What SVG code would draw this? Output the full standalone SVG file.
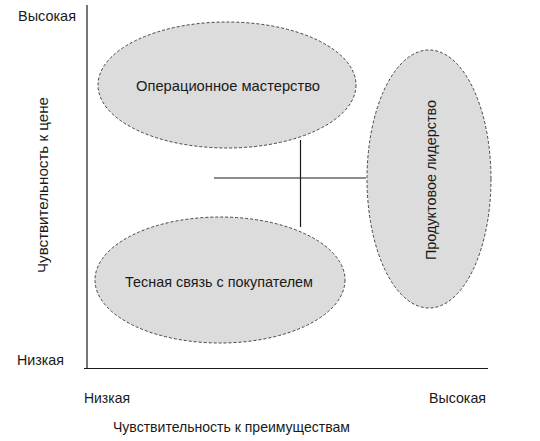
<svg xmlns="http://www.w3.org/2000/svg" width="540" height="441" viewBox="0 0 540 441">
<style>
.t{font-family:"Liberation Sans",Arial,sans-serif;font-size:15px;fill:#1a1a1a}
.e{fill:#dcdcdc;stroke:#444;stroke-width:1;stroke-dasharray:3 2}
.l{stroke:#1a1a1a;stroke-width:1.2;fill:none}
</style>
<rect width="540" height="441" fill="#fff"/>
<g id="axes">
<line class="l" x1="87" y1="5" x2="87" y2="368.5"/>
<line class="l" x1="84" y1="368.5" x2="488" y2="368.5"/>
</g>
<g id="connectors">
<line class="l" x1="214" y1="178" x2="366" y2="178"/>
<line class="l" x1="300.5" y1="140" x2="300.5" y2="227"/>
</g>
<g id="node-operational">
<ellipse class="e" cx="227" cy="85" rx="129" ry="63"/>
<text class="t" x="228" y="90.5" text-anchor="middle" textLength="184" lengthAdjust="spacingAndGlyphs">Операционное мастерство</text>
</g>
<g id="node-customer">
<ellipse class="e" cx="220" cy="280" rx="125" ry="63"/>
<text class="t" x="219" y="286.5" text-anchor="middle" textLength="188" lengthAdjust="spacingAndGlyphs">Тесная связь с покупателем</text>
</g>
<g id="node-product">
<ellipse class="e" cx="429" cy="179" rx="62" ry="129"/>
<text class="t" transform="translate(436,180) rotate(-90)" x="0" y="0" text-anchor="middle" textLength="160" lengthAdjust="spacingAndGlyphs">Продуктовое лидерство</text>
</g>
<g id="labels">
<text class="t" x="18" y="21" textLength="58" lengthAdjust="spacingAndGlyphs">Высокая</text>
<text class="t" x="17" y="365" textLength="47" lengthAdjust="spacingAndGlyphs">Низкая</text>
<text class="t" x="84" y="403" textLength="46" lengthAdjust="spacingAndGlyphs">Низкая</text>
<text class="t" x="429" y="403" textLength="57" lengthAdjust="spacingAndGlyphs">Высокая</text>
<text class="t" x="113" y="432" textLength="237" lengthAdjust="spacingAndGlyphs">Чувствительность к преимуществам</text>
<text class="t" transform="translate(47.5,185) rotate(-90)" x="0" y="0" text-anchor="middle" textLength="176" lengthAdjust="spacingAndGlyphs">Чувствительность к цене</text>
</g>
</svg>
